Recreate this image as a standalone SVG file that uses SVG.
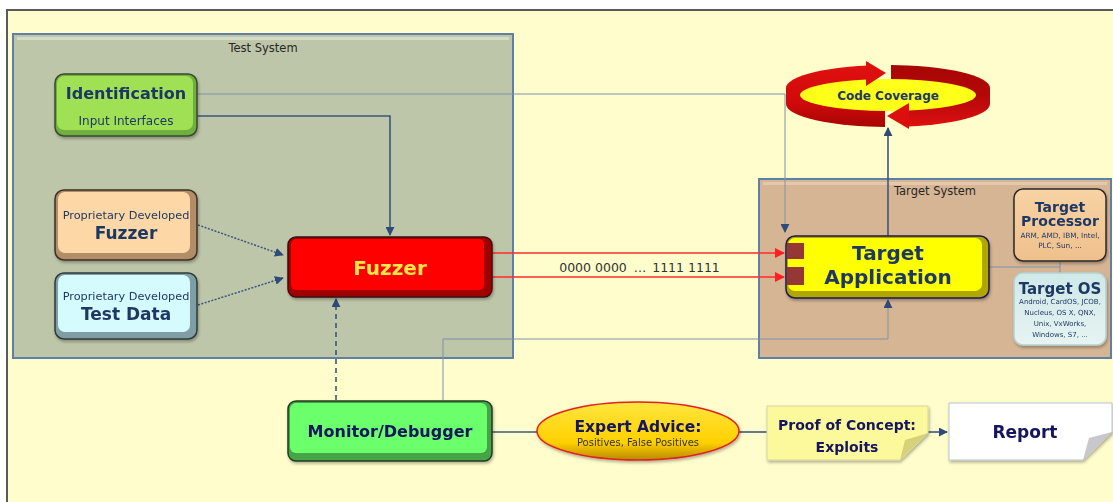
<svg xmlns="http://www.w3.org/2000/svg" width="1113" height="502" viewBox="0 0 1113 502">
  <defs>
    <style>
      .lbl { font-family: "DejaVu Sans", Verdana, sans-serif; fill: #1f3864; text-anchor: middle; }
      .b { font-weight: bold; }
      .navy { fill: #14145e; }
      .grey { fill: #262626; }
      .conn { fill: none; stroke: #3b5680; stroke-width: 1.6; }
      .thin { fill: none; stroke: #7f92a8; stroke-width: 1; }
      .red { fill: none; stroke: #ff2a2a; stroke-width: 1.6; }
    </style>
    <marker id="arr" viewBox="0 0 10 10" refX="9" refY="5" markerWidth="9" markerHeight="9" markerUnits="userSpaceOnUse" orient="auto">
      <path d="M0,0 L10,5 L0,10 z" fill="#2f4a78"/>
    </marker>
    <marker id="arrRed" viewBox="0 0 10 10" refX="9" refY="5" markerWidth="10" markerHeight="10" markerUnits="userSpaceOnUse" orient="auto">
      <path d="M0,0 L10,5 L0,10 z" fill="#ff2020"/>
    </marker>
    <linearGradient id="gold" x1="0" y1="0" x2="0" y2="1">
      <stop offset="0" stop-color="#ffe640"/>
      <stop offset="0.7" stop-color="#ffd000"/>
      <stop offset="1" stop-color="#b88a00"/>
    </linearGradient>
    <linearGradient id="proc" x1="0" y1="0" x2="0" y2="1">
      <stop offset="0" stop-color="#f8d3a4"/>
      <stop offset="1" stop-color="#efc08c"/>
    </linearGradient>
    <linearGradient id="os" x1="0" y1="0" x2="0" y2="1">
      <stop offset="0" stop-color="#cfe8e8"/>
      <stop offset="1" stop-color="#e6f4f2"/>
    </linearGradient>
    <linearGradient id="bandL" x1="0" y1="0" x2="0" y2="1">
      <stop offset="0" stop-color="#e01010"/>
      <stop offset="0.6" stop-color="#d00a0a"/>
      <stop offset="1" stop-color="#a80404"/>
    </linearGradient>
    <linearGradient id="bandR" x1="0" y1="0" x2="0" y2="1">
      <stop offset="0" stop-color="#a80606"/>
      <stop offset="0.5" stop-color="#b40808"/>
      <stop offset="1" stop-color="#de1010"/>
    </linearGradient>
    <clipPath id="ringLeft">
      <polygon points="700,0 867,0 867,96 885,96 885,200 700,200"/>
    </clipPath>
    <clipPath id="ringRight">
      <polygon points="891,0 1100,0 1100,200 908,200 908,96 891,96"/>
    </clipPath>
    <filter id="sh" x="-10%" y="-10%" width="130%" height="140%">
      <feDropShadow dx="1" dy="2" stdDeviation="1.5" flood-color="#000" flood-opacity="0.3"/>
    </filter>
  </defs>

  <!-- page background and frame -->
  <rect x="0" y="0" width="1113" height="502" fill="#ffffff"/>
  <rect x="7" y="10" width="1110" height="500" fill="#fffdcb" stroke="#5a5a5a" stroke-width="2"/>

  <!-- system containers -->
  <g id="test-system">
    <rect x="13" y="34" width="500" height="324" fill="#bec6a9" stroke="#5f7fa8" stroke-width="2"/>
    <rect x="17" y="37" width="492" height="3" fill="#d6dbc6"/>
    <text class="lbl grey" x="263" y="52" font-size="11.5">Test System</text>
  </g>
  <g id="target-system">
    <rect x="759" y="179" width="352" height="179" fill="#d6b594" stroke="#5f7fa8" stroke-width="2"/>
    <rect x="763" y="182" width="344" height="3" fill="#e4c8ab"/>
    <text class="lbl grey" x="935" y="195" font-size="11.5">Target System</text>
  </g>

  <!-- connectors -->
  <g id="connectors">
    <path class="thin" d="M197,94 H785 V232" marker-end="url(#arr)"/>
    <path class="conn" d="M197,116 H390 V235" marker-end="url(#arr)"/>
    <path d="M198,225 L283,255" fill="none" stroke="#3b5680" stroke-width="1.5" stroke-dasharray="2,1.5" marker-end="url(#arr)"/>
    <path d="M198,305 L283,278" fill="none" stroke="#3b5680" stroke-width="1.5" stroke-dasharray="2,1.5" marker-end="url(#arr)"/>
    <path d="M336,400 V299" fill="none" stroke="#3b5680" stroke-width="1.6" stroke-dasharray="5,4" marker-end="url(#arr)"/>
    <path class="red" d="M492,253 H784" marker-end="url(#arrRed)"/>
    <path class="red" d="M492,277 H784" marker-end="url(#arrRed)"/>
    <path class="thin" d="M443,400 V339 H888 V300" marker-end="url(#arr)"/>
    <path class="conn" d="M888,236 V128" marker-end="url(#arr)"/>
    <path class="thin" d="M989,267 H1060 M1060,261 V273"/>
    <path class="conn" d="M492,432 H537"/>
    <path class="conn" d="M739,432 H767"/>
    <path class="conn" d="M928,432 H947" marker-end="url(#arr)"/>
    <g font-size="12.5">
      <text class="lbl" x="593" y="272" style="fill:#333">0000 0000</text>
      <text class="lbl" x="640" y="272" style="fill:#333">…</text>
      <text class="lbl" x="686" y="272" style="fill:#333">1111 1111</text>
    </g>
  </g>

  <!-- nodes -->
  <g id="identification" filter="url(#sh)">
    <rect x="55" y="74" width="142" height="62" rx="9" fill="#6fae3c" stroke="#3a4a30" stroke-width="1.5"/>
    <rect x="57" y="76" width="136" height="54" rx="7" fill="#9fe055"/>
    <text class="lbl b" x="126" y="99" font-size="16">Identification</text>
    <text class="lbl" x="126" y="125" font-size="12">Input Interfaces</text>
  </g>

  <g id="proprietary-fuzzer" filter="url(#sh)">
    <rect x="55" y="190" width="142" height="70" rx="9" fill="#b38d68" stroke="#3a3028" stroke-width="1.5"/>
    <rect x="58" y="192" width="132" height="61" rx="7" fill="#fdd8a6"/>
    <text class="lbl" x="126" y="219" font-size="11.3">Proprietary Developed</text>
    <text class="lbl b" x="126" y="239" font-size="17">Fuzzer</text>
  </g>

  <g id="proprietary-test-data" filter="url(#sh)">
    <rect x="55" y="273" width="142" height="66" rx="9" fill="#7f9ea5" stroke="#2f3a3c" stroke-width="1.5"/>
    <rect x="58" y="275" width="132" height="57" rx="7" fill="#d6fbff"/>
    <text class="lbl" x="126" y="300" font-size="11.3">Proprietary Developed</text>
    <text class="lbl b" x="126" y="320" font-size="17">Test Data</text>
  </g>

  <g id="fuzzer" filter="url(#sh)">
    <rect x="288" y="237" width="204" height="60" rx="8" fill="#a00000" stroke="#3a1010" stroke-width="1.5"/>
    <rect x="291" y="239" width="193" height="51" rx="5" fill="#ff0000"/>
    <text class="lbl b" x="390" y="275" font-size="20" style="fill:#ffe94a">Fuzzer</text>
  </g>

  <g id="target-application" filter="url(#sh)">
    <rect x="786" y="236" width="203" height="62" rx="9" fill="#b0a800" stroke="#1a1a50" stroke-width="1.5"/>
    <rect x="788" y="238" width="194" height="53" rx="7" fill="#ffff00"/>
    <rect x="787" y="243" width="17" height="16" fill="#953735"/>
    <rect x="787" y="267" width="17" height="18" fill="#953735"/>
    <text class="lbl b" x="888" y="260" font-size="20">Target</text>
    <text class="lbl b" x="888" y="284" font-size="20">Application</text>
  </g>

  <g id="target-processor" filter="url(#sh)">
    <rect x="1014" y="189" width="92" height="72" rx="9" fill="url(#proc)" stroke="#2a2a2a" stroke-width="1.5"/>
    <text class="lbl b" x="1060" y="212" font-size="14">Target</text>
    <text class="lbl b" x="1060" y="226" font-size="14">Processor</text>
    <text class="lbl" x="1060" y="238" font-size="7.3">ARM, AMD, IBM, Intel,</text>
    <text class="lbl" x="1060" y="248" font-size="7.3">PLC, Sun, ...</text>
  </g>

  <g id="target-os" filter="url(#sh)">
    <rect x="1014" y="273" width="92" height="72" rx="9" fill="url(#os)" stroke="#b4d2d2" stroke-width="1.5"/>
    <text class="lbl b" x="1060" y="294" font-size="15">Target OS</text>
    <text class="lbl" x="1060" y="304" font-size="7">Android, CardOS, JCOB,</text>
    <text class="lbl" x="1060" y="315" font-size="7">Nucleus, OS X, QNX,</text>
    <text class="lbl" x="1060" y="326" font-size="7">Unix, VxWorks,</text>
    <text class="lbl" x="1060" y="337" font-size="7">Windows, S7, ...</text>
  </g>

  <g id="code-coverage">
    <!-- cylinder-like band: upper rim, vertical depth, lower rim -->
    <path clip-path="url(#ringLeft)" fill="url(#bandL)"
          d="M786,88 A102 23 0 0 1 990,88 L990,104 A102 23 0 0 1 786,104 Z"/>
    <path clip-path="url(#ringRight)" fill="url(#bandR)"
          d="M786,88 A102 23 0 0 1 990,88 L990,104 A102 23 0 0 1 786,104 Z"/>
    <ellipse cx="888" cy="95" rx="88" ry="16" fill="#ffff1a"/>
    <polygon points="866,61 886,73 866,86" fill="#dc0e0e"/>
    <polygon points="909,103 887,116 909,129" fill="#dc0e0e"/>
    <text class="lbl b" x="888" y="100" font-size="12">Code Coverage</text>
  </g>

  <g id="monitor-debugger" filter="url(#sh)">
    <rect x="288" y="401" width="204" height="60" rx="8" fill="#45a445" stroke="#243a24" stroke-width="1.5"/>
    <rect x="290" y="403" width="197" height="50" rx="6" fill="#6cff6c"/>
    <text class="lbl b navy" x="390" y="437" font-size="16">Monitor/Debugger</text>
  </g>

  <g id="expert-advice" filter="url(#sh)">
    <ellipse cx="638" cy="431" rx="101" ry="29" fill="url(#gold)" stroke="#e02020" stroke-width="1.5"/>
    <text class="lbl b navy" x="638" y="432" font-size="15.5">Expert Advice:</text>
    <text class="lbl" x="638" y="446" font-size="10" style="fill:#333">Positives, False Positives</text>
  </g>

  <g id="proof-of-concept" filter="url(#sh)">
    <path d="M767,406 H928 V433 L900,460 H767 Z" fill="#fbf99c" stroke="#d8d6a0" stroke-width="1"/>
    <path d="M928,433 L900,460 L905,440 Z" fill="#d6d27a"/>
    <text class="lbl b navy" x="847" y="430" font-size="14">Proof of Concept:</text>
    <text class="lbl b navy" x="847" y="452" font-size="14">Exploits</text>
  </g>

  <g id="report" filter="url(#sh)">
    <path d="M949,403 H1112 V432 L1083,460 H949 Z" fill="#ffffff" stroke="#b8c4d8" stroke-width="1"/>
    <path d="M1112,432 L1083,460 L1089,438 Z" fill="#c8c8cc"/>
    <text class="lbl b navy" x="1025" y="438" font-size="17">Report</text>
  </g>
</svg>
